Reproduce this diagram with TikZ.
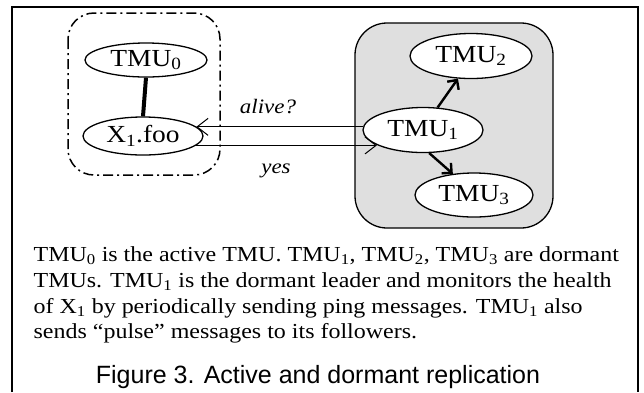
\documentclass[tikz,border=0pt]{standalone}
\usepackage{fontspec}
\setmainfont[FakeStretch=1.12]{Liberation Serif}
\newfontfamily\captionfont{Liberation Sans}
\usetikzlibrary{shapes.geometric,arrows.meta}

\begin{document}
\begin{tikzpicture}[x=1pt, y=-1pt, line width=1.3pt,
  tmu/.style={draw, ellipse, fill=white, inner sep=0pt,
    minimum width=120pt, minimum height=45pt,
    font=\fontsize{24.5}{28}\selectfont},
  msg/.style={line width=1pt, -{Straight Barb[length=11pt, width=17pt]}},
  follow/.style={line width=2.4pt, -{Straight Barb[length=7pt, width=14pt]}},
  label/.style={font=\itshape\fontsize{20.5}{24}\selectfont, anchor=base}]
  \useasboundingbox (0,0) rectangle (644,392);
  \draw[line width=2pt] (12,392) -- (12,7) -- (638,7) -- (638,392);

  % the active side and the dormant group
  \draw[line width=1.5pt, dash pattern=on 10pt off 4pt on 2pt off 4pt,
    rounded corners=26pt] (68,13) rectangle (220,175);
  \draw[fill=gray!25, rounded corners=32pt] (355,23) rectangle (553,228);

  \node[tmu, minimum width=122pt, minimum height=34pt] (tmu0) at (146,60) {TMU\textsubscript{0}};
  \node[tmu, minimum height=38pt] (x1) at (143,136) {X\textsubscript{1}.foo};
  \node[tmu] (tmu1) at (423,130) {TMU\textsubscript{1}};
  \node[tmu, minimum width=122pt] (tmu2) at (471,56) {TMU\textsubscript{2}};
  \node[tmu, minimum width=118pt, minimum height=44pt] (tmu3) at (474,195) {TMU\textsubscript{3}};

  \draw[line width=4pt] (tmu0.south) -- (x1.north);
  \draw[follow] (tmu1.57) -- (tmu2.240);
  \draw[follow] (tmu1.285) -- (tmu3.135);

  % ping and reply
  \draw[msg] (tmu1.177) -- (x1.10 |- tmu1.177);
  \draw[msg] (x1.-10) -- (tmu1.198 |- x1.-10);
  \node[label] (alive) at (268,113) {alive?};
  \node[label] (yes) at (276,173) {yes};

  \node[anchor=north west, align=left, inner sep=0pt,
    font=\fontsize{21.4}{25.8}\selectfont] (desc) at (33,246)
    {TMU\textsubscript{0} is the active TMU. TMU\textsubscript{1}, TMU\textsubscript{2}, TMU\textsubscript{3} are dormant\\
     TMUs. TMU\textsubscript{1} is the dormant leader and monitors the health\\
     of X\textsubscript{1} by periodically sending ping messages. TMU\textsubscript{1} also\\
     sends ``pulse'' messages to its followers.};
  \node[anchor=base, font=\captionfont\fontsize{25}{30}\selectfont] (caption)
    at (318,383) {Figure 3. Active and dormant replication};
\end{tikzpicture}
\end{document}
